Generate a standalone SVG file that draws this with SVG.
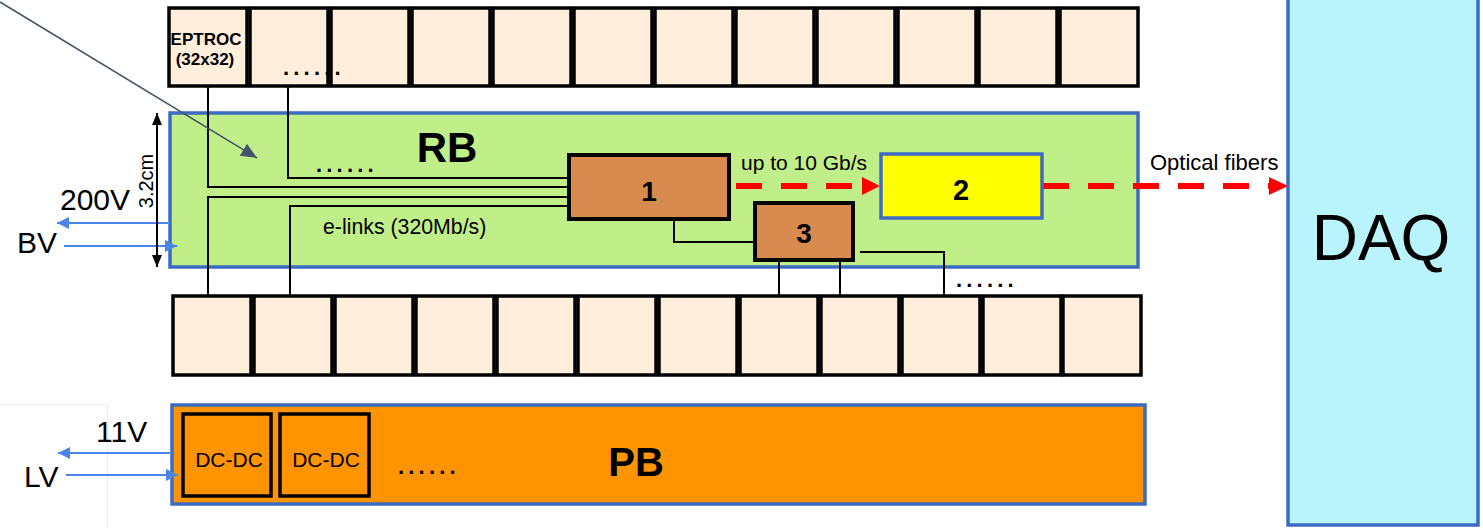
<svg xmlns="http://www.w3.org/2000/svg" width="1483" height="528" viewBox="0 0 1483 528">
<defs>
<style>
text{font-family:"Liberation Sans",Arial,sans-serif;fill:#000}
.chip{fill:#ffeedb;stroke:#000;stroke-width:3.5}
.wire{fill:none;stroke:#000;stroke-width:2}
.blu{fill:none;stroke:#4a86e8;stroke-width:2}
.red{fill:none;stroke:#ff0000;stroke-width:6;stroke-dasharray:26 19}
.bb{stroke:#3d6bc4;stroke-width:3.5}
.brown{fill:#d98b4f;stroke:#000;stroke-width:4}
.b{font-weight:bold}
.dots{font-size:22px;letter-spacing:4.2px;font-weight:bold}
</style>
<marker id="bh" viewBox="0 0 12 12" refX="12" refY="6" markerWidth="12" markerHeight="12" markerUnits="userSpaceOnUse" orient="auto"><path d="M0,0 L12,6 L0,12 Z" fill="#4a86e8"/></marker>
<marker id="kh" viewBox="0 0 12 10" refX="12" refY="5" markerWidth="12" markerHeight="10" markerUnits="userSpaceOnUse" orient="auto-start-reverse"><path d="M0,0 L12,5 L0,10 Z" fill="#000"/></marker>
<marker id="sh" viewBox="0 0 16 14" refX="16" refY="7" markerWidth="16" markerHeight="14" markerUnits="userSpaceOnUse" orient="auto"><path d="M0,0 L16,7 L0,14 Z" fill="#44546a"/></marker>
</defs>
<rect x="0" y="0" width="1483" height="528" fill="#fff"/>
<g id="frame-artifact"><path d="M0,404.5 H107.5 V528" fill="none" stroke="#ececec" stroke-width="1"/></g>

<g id="RB"><rect class="bb" x="170" y="113" width="968" height="154" fill="#c0ee88"/><text class="b" x="447" y="162" font-size="42" text-anchor="middle">RB</text></g>
<g id="PB"><rect class="bb" x="172" y="405" width="973" height="99" fill="#ff9400"/><text class="b" x="636" y="476" font-size="40" text-anchor="middle">PB</text></g>
<g id="DAQ"><rect class="bb" x="1288" y="-5" width="190" height="530" fill="#b9f4fc"/><text x="1381" y="260" font-size="64" text-anchor="middle">DAQ</text></g>

<g id="top-row">
<g id="t1"><rect class="chip" x="169" y="8" width="78" height="78"/><text class="b" x="206" y="45" font-size="17" text-anchor="middle">EPTROC</text><text class="b" x="205" y="65" font-size="17" text-anchor="middle">(32x32)</text></g>
<g id="t2"><rect class="chip" x="250" y="8" width="78" height="78"/></g>
<g id="t3"><rect class="chip" x="331" y="8" width="78" height="78"/></g>
<g id="t4"><rect class="chip" x="412" y="8" width="78" height="78"/></g>
<g id="t5"><rect class="chip" x="493" y="8" width="78" height="78"/></g>
<g id="t6"><rect class="chip" x="574" y="8" width="78" height="78"/></g>
<g id="t7"><rect class="chip" x="655" y="8" width="78" height="78"/></g>
<g id="t8"><rect class="chip" x="736" y="8" width="78" height="78"/></g>
<g id="t9"><rect class="chip" x="817" y="8" width="78" height="78"/></g>
<g id="t10"><rect class="chip" x="898" y="8" width="78" height="78"/></g>
<g id="t11"><rect class="chip" x="979" y="8" width="78" height="78"/></g>
<g id="t12"><rect class="chip" x="1060" y="8" width="78" height="78"/></g>
</g>
<g id="bottom-row">
<g id="b1"><rect class="chip" x="173" y="296" width="78" height="79"/></g>
<g id="b2"><rect class="chip" x="254" y="296" width="78" height="79"/></g>
<g id="b3"><rect class="chip" x="335" y="296" width="78" height="79"/></g>
<g id="b4"><rect class="chip" x="416" y="296" width="78" height="79"/></g>
<g id="b5"><rect class="chip" x="497" y="296" width="78" height="79"/></g>
<g id="b6"><rect class="chip" x="578" y="296" width="78" height="79"/></g>
<g id="b7"><rect class="chip" x="659" y="296" width="78" height="79"/></g>
<g id="b8"><rect class="chip" x="740" y="296" width="78" height="79"/></g>
<g id="b9"><rect class="chip" x="821" y="296" width="78" height="79"/></g>
<g id="b10"><rect class="chip" x="902" y="296" width="78" height="79"/></g>
<g id="b11"><rect class="chip" x="983" y="296" width="78" height="79"/></g>
<g id="b12"><rect class="chip" x="1063" y="296" width="78" height="79"/></g>
</g>

<g id="connectors">
<path class="wire" d="M208,87 V187 H569"/>
<path class="wire" d="M288,87 V178 H569"/>
<path class="wire" d="M208,295 V197 H569"/>
<path class="wire" d="M290,295 V206 H569"/>
<path class="wire" d="M674,220 V242 H755"/>
<path class="wire" d="M779,260 V295"/>
<path class="wire" d="M840,260 V295"/>
<path class="wire" d="M860,252 H944 V295"/>
<line class="red" x1="736" y1="186" x2="862" y2="186"/>
<polygon points="862,177 880,186 862,195" fill="#ff0000"/>
<line class="red" x1="1043" y1="186" x2="1269" y2="186"/>
<polygon points="1269,177 1288,186 1269,195" fill="#ff0000"/>
<line class="blu" x1="170" y1="223" x2="57" y2="223" marker-end="url(#bh)"/>
<line class="blu" x1="64" y1="246" x2="177" y2="246" marker-end="url(#bh)"/>
<line class="blu" x1="172" y1="453" x2="58" y2="453" marker-end="url(#bh)"/>
<line class="blu" x1="66" y1="475" x2="178" y2="475" marker-end="url(#bh)"/>
<line x1="157" y1="113" x2="157" y2="267" stroke="#000" stroke-width="2" marker-start="url(#kh)" marker-end="url(#kh)"/>
<line x1="0" y1="2" x2="257" y2="158" stroke="#44546a" stroke-width="1.5" marker-end="url(#sh)"/>
</g>

<g id="n1"><rect class="brown" x="569" y="155" width="160" height="64"/><text class="b" x="649" y="201" font-size="28" text-anchor="middle">1</text></g>
<g id="n2"><rect class="bb" x="881" y="154" width="161" height="64" fill="#ffff00"/><text class="b" x="961" y="200" font-size="29" text-anchor="middle">2</text></g>
<g id="n3"><rect class="brown" x="755" y="203" width="98" height="57"/><text class="b" x="804" y="243" font-size="28" text-anchor="middle">3</text></g>
<g id="dc1"><rect x="183" y="414" width="88" height="82" fill="none" stroke="#000" stroke-width="3.5"/><text x="229" y="467" font-size="21" text-anchor="middle">DC-DC</text></g>
<g id="dc2"><rect x="280" y="414" width="89" height="82" fill="none" stroke="#000" stroke-width="3.5"/><text x="326" y="467" font-size="21" text-anchor="middle">DC-DC</text></g>

<g id="labels">
<text x="741" y="170" font-size="21">up to 10 Gb/s</text>
<text x="1150" y="170" font-size="22">Optical fibers</text>
<text x="323" y="234" font-size="21.3">e-links (320Mb/s)</text>
<text x="60" y="210" font-size="30">200V</text>
<text x="17" y="253" font-size="30">BV</text>
<text x="96" y="442" font-size="30">11V</text>
<text x="24" y="487" font-size="30">LV</text>
<text transform="translate(153,181) rotate(-90)" font-size="20" text-anchor="middle">3.2cm</text>
<text class="dots" x="283" y="75">......</text>
<text class="dots" x="316" y="172">......</text>
<text class="dots" x="956" y="287">......</text>
<text class="dots" x="398" y="474">......</text>
</g>
</svg>
